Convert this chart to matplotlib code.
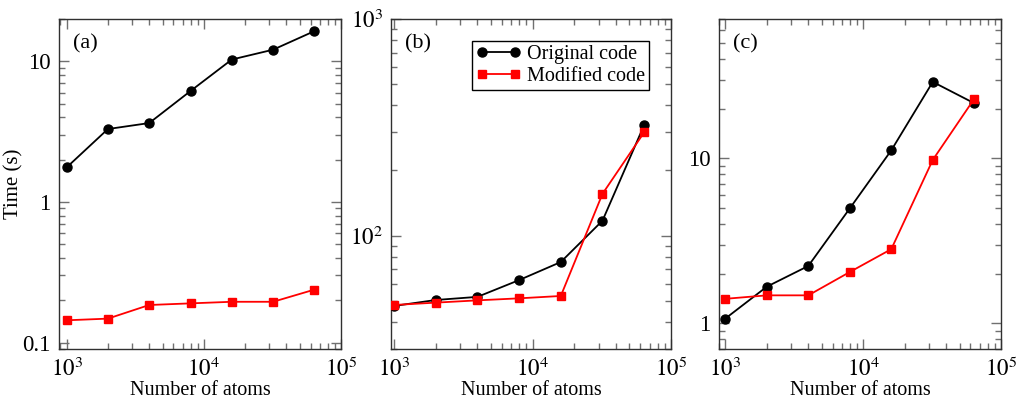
import numpy as np
import matplotlib
matplotlib.use("Agg")
import matplotlib.pyplot as plt
from matplotlib.ticker import LogLocator, FuncFormatter, NullFormatter

plt.rcParams["font.family"] = ["Liberation Serif", "DejaVu Serif"]
plt.rcParams["mathtext.fontset"] = "stix"

# number of atoms (same for all panels)
atoms = [1000, 2000, 4000, 8000, 16000, 32000, 64000]

# panel (a)
orig_a = [1.76, 3.30, 3.64, 6.15, 10.3, 12.1, 16.4]
mod_a = [0.144, 0.148, 0.185, 0.190, 0.195, 0.195, 0.238]

# panel (b)
orig_b = [47.4, 50.5, 52.2, 62.4, 75.6, 117.3, 324]
mod_b = [47.9, 49.1, 50.3, 51.4, 52.7, 156, 300]

# panel (c)
orig_c = [1.07, 1.67, 2.23, 4.98, 11.2, 29.1, 21.6]
mod_c = [1.41, 1.48, 1.48, 2.05, 2.82, 9.8, 23.0]

fig = plt.figure(figsize=(10.16, 4.0), dpi=100)

paneles = [
    ("(a)", orig_a, mod_a, [59, 282], (880, 1e5), (0.09, 20)),
    ("(b)", orig_b, mod_b, [391, 280], (950, 1e5), (30, 1000)),
    ("(c)", orig_c, mod_c, [719, 282], (900, 1e5), (0.7, 70)),
]


def fmt_y(v, pos):
    if v >= 100:
        return r"$10^{%d}$" % int(round(np.log10(v)))
    return "%g" % v


for etiqueta, orig, mod, (x0, w), xlim, ylim in paneles:
    ax = fig.add_axes([x0 / 1016, 51 / 400, w / 1016, 330 / 400])
    ax.set_xscale("log")
    ax.set_yscale("log")

    ax.plot(atoms, orig, color="black", marker="o", markersize=6.5,
            linewidth=1.3, label="Original code", zorder=3)
    ax.plot(atoms, mod, color="red", marker="s", markersize=6,
            linewidth=1.3, label="Modified code", zorder=3)

    ax.set_xlim(*xlim)
    ax.set_ylim(*ylim)

    ax.xaxis.set_major_locator(LogLocator(base=10, numticks=10))
    ax.xaxis.set_minor_locator(LogLocator(base=10, subs=np.arange(2, 10), numticks=20))
    ax.xaxis.set_major_formatter(FuncFormatter(lambda v, p: r"$10^{%d}$" % int(round(np.log10(v)))))
    ax.xaxis.set_minor_formatter(NullFormatter())
    ax.yaxis.set_major_locator(LogLocator(base=10, numticks=10))
    ax.yaxis.set_minor_locator(LogLocator(base=10, subs=np.arange(2, 10), numticks=20))
    ax.yaxis.set_major_formatter(FuncFormatter(fmt_y))
    ax.yaxis.set_minor_formatter(NullFormatter())

    ax.tick_params(which="both", direction="in", top=True, right=True,
                   color="#707070", labelsize=16.5, pad=6)
    ax.tick_params(which="major", length=7, width=1.0)
    ax.tick_params(which="minor", length=4, width=1.0)
    for s in ax.spines.values():
        s.set_color("#303030")
        s.set_linewidth(1.0)

    ax.set_xlabel("Number of atoms", fontsize=14.5, labelpad=0)
    ax.text(0.05, 0.955, etiqueta, transform=ax.transAxes, fontsize=16,
            va="top", ha="left")

    if etiqueta == "(a)":
        ax.set_ylabel("Time (s)", fontsize=15)
        ax.yaxis.set_label_coords(-0.125, 0.5)
    if etiqueta == "(b)":
        leg = ax.legend(loc="upper right", numpoints=2, fontsize=14.5,
                        fancybox=False, framealpha=1, edgecolor="black",
                        borderpad=0.2, handlelength=2.2, handletextpad=0.3,
                        labelspacing=0.15, borderaxespad=1.1)
        leg.get_frame().set_linewidth(1.0)

fig.savefig("out.png", dpi=100)
